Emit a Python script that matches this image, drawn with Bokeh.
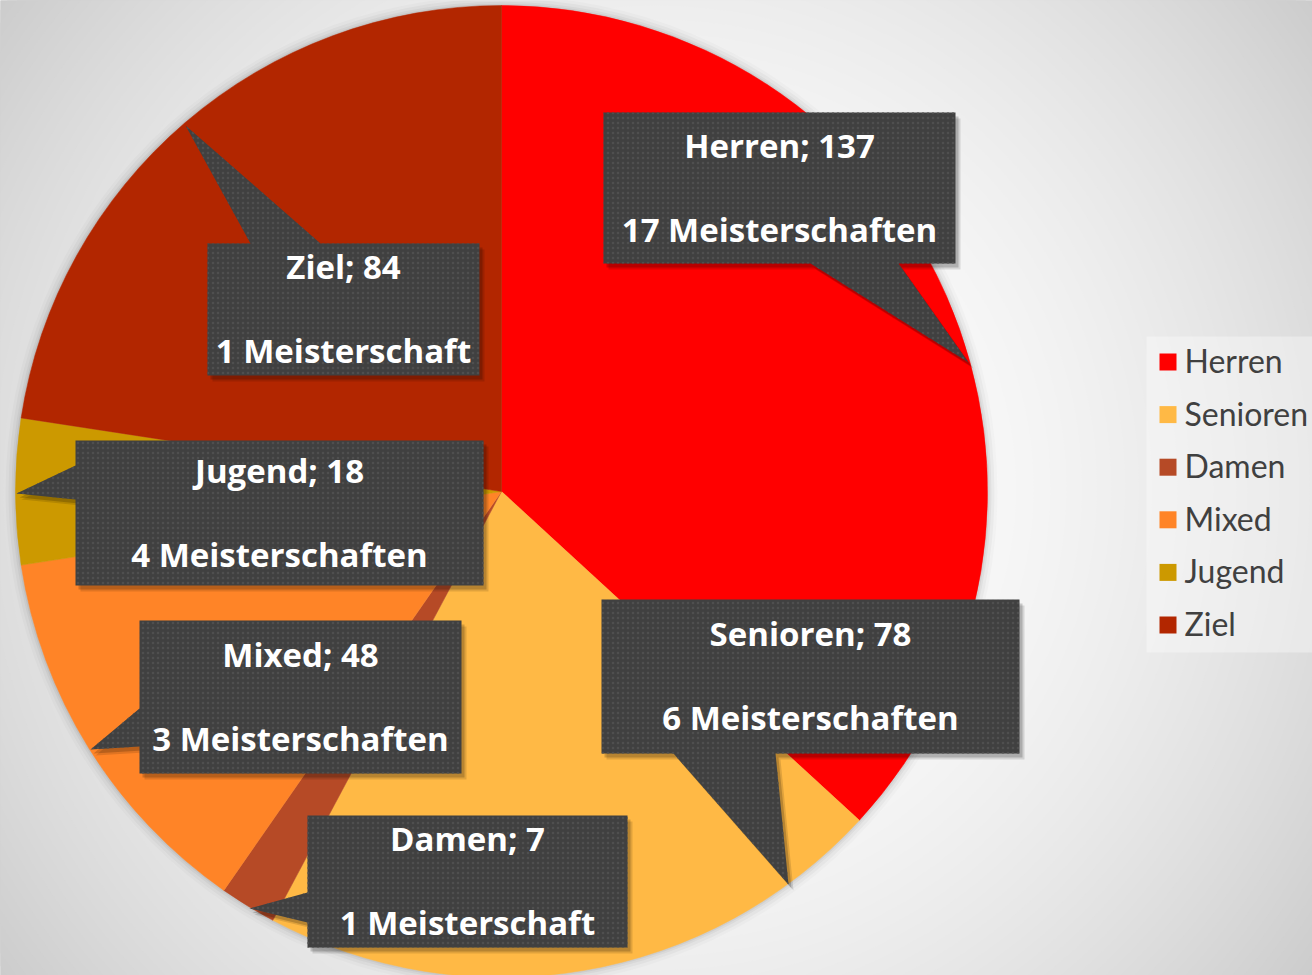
import numpy as np
from bokeh.plotting import figure
from bokeh.models import ColumnDataSource, Range1d
from bokeh.core.properties import value
from bokeh.embed import file_html
from bokeh.resources import INLINE

# ---------------- data ----------------
categories = ["Herren", "Senioren", "Damen", "Mixed", "Jugend", "Ziel"]
counts = [137, 78, 7, 48, 18, 84]
championships = [17, 6, 1, 3, 4, 1]
colors = ["#FF0000", "#FFB945", "#B64A26", "#FF8427", "#CC9900", "#B22600"]

# ---------------- layout (page pixels, y measured from top) ----------------
W, H = 1312, 975
CX, CY, R = 501, 491, 486

def Y(y):
    return H - y

callouts = {
    "Herren":   dict(box=(603, 112, 955, 263), side="bottom", base=(810, 898), tip=(968, 362)),
    "Senioren": dict(box=(601, 599, 1019, 753), side="bottom", base=(673, 775), tip=(788, 884)),
    "Damen":    dict(box=(307, 815, 627, 947), side="left", base=(892, 922), tip=(249, 908)),
    "Mixed":    dict(box=(139, 620, 461, 773), side="left", base=(708, 746), tip=(90, 749)),
    "Jugend":   dict(box=(75, 440, 483, 585), side="left", base=(465, 499), tip=(16, 493)),
    "Ziel":     dict(box=(207, 243, 479, 375), side="top", base=(250, 320), tip=(185, 125)),
}

p = figure(width=W, height=H, x_range=Range1d(0, W), y_range=Range1d(0, H),
           output_backend="svg", toolbar_location=None,
           x_axis_type=None, y_axis_type=None, min_border=0)
p.grid.visible = False
p.outline_line_color = None
p.background_fill_color = "#CCCCCC"
p.border_fill_color = "#CCCCCC"

# background radial gradient (concentric discs)
levels = np.arange(204, 256)
radii = 820 * np.sqrt((256 - levels) / 52.0)
p.circle(x=[W / 2] * len(levels), y=[Y(H / 2)] * len(levels), radius=radii,
         fill_color=["#%02x%02x%02x" % (l, l, l) for l in levels], line_color=None)

# soft shadow around the pie
for k, a in [(10, 0.02), (7, 0.03), (4, 0.04), (2, 0.05)]:
    p.circle(x=[CX], y=[Y(CY)], radius=R + k, fill_color="black", fill_alpha=a, line_color=None)

# pie
tot = float(sum(counts))
cum = np.cumsum([0] + counts)
start = [np.pi / 2 - 2 * np.pi * c / tot for c in cum[:-1]]
end = [np.pi / 2 - 2 * np.pi * c / tot for c in cum[1:]]
src = ColumnDataSource(dict(cat=categories, val=counts, start=start, end=end, color=colors))
p.wedge(x=CX, y=Y(CY), radius=R, start_angle="start", end_angle="end", direction="clock",
        fill_color="color", line_color="color", line_width=0.5, source=src)

# callouts
def shape(c):
    x0, y0, x1, y1 = c["box"]
    b0, b1 = c["base"]
    t = c["tip"]
    if c["side"] == "bottom":
        pts = [(x0, y0), (x1, y0), (x1, y1), (b1, y1), t, (b0, y1), (x0, y1)]
    elif c["side"] == "top":
        pts = [(x0, y0), (b0, y0), t, (b1, y0), (x1, y0), (x1, y1), (x0, y1)]
    else:
        pts = [(x0, y0), (x1, y0), (x1, y1), (x0, y1), (x0, b1), t, (x0, b0)]
    return [q[0] for q in pts], [Y(q[1]) for q in pts]

xs, ys = [], []
for cat in categories:
    a, b = shape(callouts[cat])
    xs.append(a)
    ys.append(b)

for dx, dy, a in [(5, 6, 0.12), (3, 4, 0.18)]:
    p.patches(xs=[[v + dx for v in x] for x in xs], ys=[[v - dy for v in y] for y in ys],
              fill_color="black", fill_alpha=a, line_color=None)
p.patches(xs=xs, ys=ys, fill_color="#404040", line_color=None,
          hatch_pattern="dot", hatch_color="#4F4F4F", hatch_scale=5, hatch_weight=1)

l1x, l1y, l1t, l2y, l2t = [], [], [], [], []
for cat, v, m in zip(categories, counts, championships):
    x0, y0, x1, y1 = callouts[cat]["box"]
    cx, cy = (x0 + x1) / 2, (y0 + y1) / 2
    l1x.append(cx)
    l1y.append(Y(cy - 43))
    l2y.append(Y(cy + 41))
    l1t.append(f"{cat}; {v}")
    l2t.append(f"{m} Meisterschaft" if m == 1 else f"{m} Meisterschaften")

for yy, tt in [(l1y, l1t), (l2y, l2t)]:
    p.text(x=l1x, y=yy, text=tt, text_font=value("Open Sans"), text_font_style="bold",
           text_font_size="33px", text_color="white", text_align="center",
           text_baseline="alphabetic")

# legend
LX0, LY0, LX1, LY1 = 1146, 336, 1312, 652
p.quad(left=[LX0], right=[LX1], top=[Y(LY0)], bottom=[Y(LY1)],
       fill_color="white", fill_alpha=0.35, line_color=None)
leg_y = [361.5 + 52.6 * i for i in range(len(categories))]
p.rect(x=[1167.5] * len(categories), y=[Y(v) for v in leg_y], width=17, height=17,
       fill_color=colors, line_color=None)
p.text(x=[1184] * len(categories), y=[Y(v - 1.5) for v in leg_y], text=categories,
       text_font=value("Lato"), text_font_size="32px", text_color="#404040",
       text_align="left", text_baseline="alphabetic")

open("out.html", "w").write(file_html(p, INLINE))
